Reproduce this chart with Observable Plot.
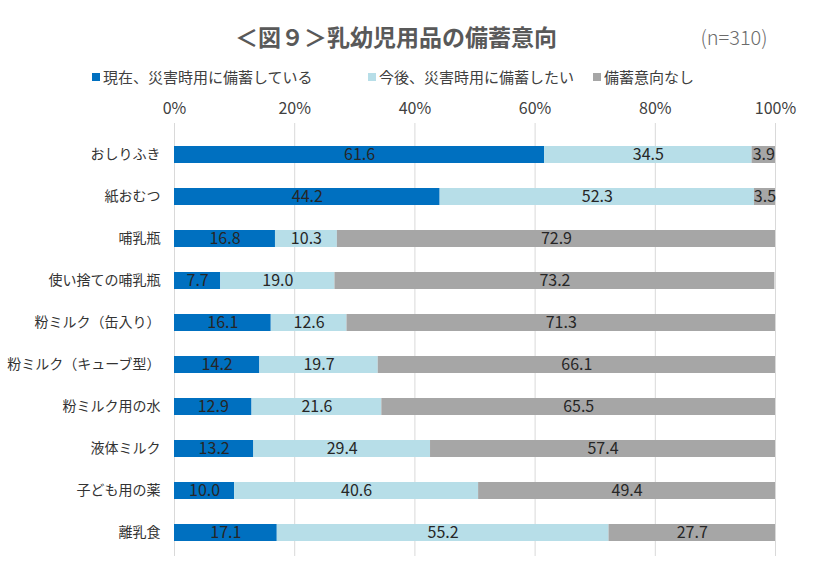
<!DOCTYPE html>
<html><head><meta charset="utf-8">
<script src="https://cdn.jsdelivr.net/npm/d3@7"></script>
<script src="https://cdn.jsdelivr.net/npm/@observablehq/plot@0.6"></script>
<style>
body{margin:0;background:#fff;font-family:"Noto Sans CJK JP","Noto Sans",sans-serif;}
#wrap{position:relative;width:836px;height:581px;overflow:hidden;}
#head{position:relative;width:836px;height:92px;}
.t{position:absolute;white-space:nowrap;color:#595959;}
.sq{position:absolute;width:8px;height:8px;}
</style></head>
<body><div id="wrap"><div id="head"></div><div id="chart"></div></div>
<script>
const categories = ["おしりふき","紙おむつ","哺乳瓶","使い捨ての哺乳瓶","粉ミルク（缶入り）","粉ミルク（キューブ型）","粉ミルク用の水","液体ミルク","子ども用の薬","離乳食"];
const series = ["現在、災害時用に備蓄している","今後、災害時用に備蓄したい","備蓄意向なし"];
const current = [61.6,44.2,16.8,7.7,16.1,14.2,12.9,13.2,10.0,17.1];
const future = [34.5,52.3,10.3,19.0,12.6,19.7,21.6,29.4,40.6,55.2];
const noIntent = [3.9,3.5,72.9,73.2,71.3,66.1,65.5,57.4,49.4,27.7];
const xTicks = [0,20,40,60,80,100];
const colors = ["#0070C0","#B7DEE8","#A6A6A6"];
const title = "＜図９＞乳幼児用品の備蓄意向";
const note = "(n=310)";

const values = [current, future, noIntent];
const data = [];
categories.forEach((c,i)=>series.forEach((s,j)=>data.push({cat:c, series:s, value:values[j][i]})));

// header
const head = document.getElementById("head");
function addText(txt, x, y, size, weight, anchor, color){
  const el = document.createElement("div");
  el.className="t"; el.textContent = txt;
  el.style.fontSize=size+"px"; el.style.fontWeight=weight;
  if(color) el.style.color=color;
  el.style.top=(y - size*0.72)+"px"; el.style.lineHeight=(size*1.44)+"px";
  if(anchor==="middle"){el.style.left=x+"px"; el.style.transform="translateX(-50%)";}
  else el.style.left=x+"px";
  head.appendChild(el);
}
addText(title, 396, 37, 23, "bold", "middle");
addText(note, 734, 37, 20, "300", "middle", "#6b6b6b");
const legX = [92, 368, 593];
series.forEach((s,j)=>{
  const sq=document.createElement("div"); sq.className="sq";
  sq.style.left=legX[j]+"px"; sq.style.top="73px"; sq.style.background=colors[j];
  head.appendChild(sq);
  addText(s, legX[j]+11, 77, 15, "normal", "start", "#404040");
});

const chart = Plot.plot({
  width: 836, height: 489,
  marginLeft: 174, marginRight: 61, marginTop: 31, marginBottom: 25,
  style: {fontFamily: '"Noto Sans CJK JP","Noto Sans",sans-serif', color:"#404040", background:"#fff"},
  x: {domain:[0,100], ticks: xTicks, tickFormat: d=>d+"%", axis: null, label: null},
  y: {domain: categories, range:[38,464], paddingInner:0.6, paddingOuter:0.3, axis:null, label: null},
  color: {domain: series, range: colors},
  marks: [
    Plot.ruleX(xTicks, {stroke:"#D9D9D9", strokeWidth:1}),
    Plot.axisX({anchor:"top", ticks:xTicks, tickFormat:d=>d+"%", tickSize:0, tickPadding:10, fontSize:16, fill:"#404040", label: null}),
    Plot.axisY({anchor:"left", tickSize:0, tickPadding:14, fontSize:14, fill:"#333", label: null}),
    Plot.barX(data, Plot.stackX({x:"value", y:"cat", fill:"series", order: series})),
    Plot.text(data, Plot.stackX({x:"value", y:"cat", z:"series", order: series, text: d=>d.value.toFixed(1), fill:"#262626", fontSize:16}))
  ]
});
document.getElementById("chart").appendChild(chart);
</script></body></html>
